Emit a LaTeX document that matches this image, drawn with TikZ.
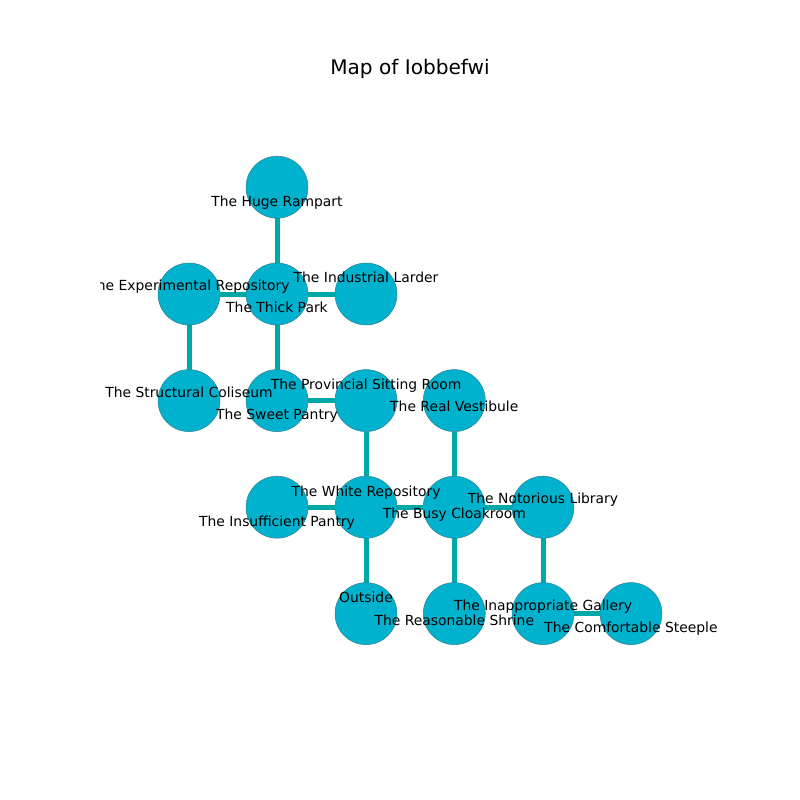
\documentclass[tikz,border=0pt]{standalone}
\usepackage{fontspec}
\setmainfont{DejaVu Sans}
\usetikzlibrary{backgrounds}
\definecolor{roomfill}{HTML}{00B2CE}
\definecolor{roomedge}{HTML}{00A8A8}
\definecolor{roomline}{HTML}{2F7F8F}
\tikzset{
  room/.style={circle,draw=roomline,line width=0.5pt,fill=roomfill,minimum size=62pt,inner sep=0pt,outer sep=0pt},
  link/.style={draw=roomedge,line width=5pt},
  lab/.style={anchor=base,inner sep=0pt,outer sep=0pt,text=black,font=\fontsize{13.89pt}{16pt}\selectfont},
  ttl/.style={anchor=base,inner sep=0pt,font=\fontsize{20.1pt}{23pt}\selectfont}
}
\begin{document}
\begin{tikzpicture}[x=1pt,y=-1pt]
\useasboundingbox (0,0) rectangle (800,800);
\node[ttl] (title) at (410,74.4) {Map of Iobbefwi};
\node[room] (huge) at (277,187.2) {};
\node[room] (exp) at (189,294) {};
\node[room] (thick) at (277,294) {};
\node[room] (ind) at (366,294) {};
\node[room] (struct) at (189,400.6) {};
\node[room] (sweet) at (277,400.6) {};
\node[room] (prov) at (366,400.6) {};
\node[room] (real) at (454.3,400.6) {};
\node[room] (insuf) at (277,507.2) {};
\node[room] (white) at (366,507.2) {};
\node[room] (busy) at (454.3,507.2) {};
\node[room] (notor) at (543,507.2) {};
\node[room] (out) at (366,613.6) {};
\node[room] (reas) at (454.3,613.6) {};
\node[room] (inap) at (543,613.6) {};
\node[room] (comf) at (631,613.6) {};
\begin{scope}[on background layer]
\draw[link] (huge) -- (thick);
\draw[link] (exp) -- (thick);
\draw[link] (thick) -- (ind);
\draw[link] (exp) -- (struct);
\draw[link] (thick) -- (sweet);
\draw[link] (sweet) -- (prov);
\draw[link] (prov) -- (white);
\draw[link] (real) -- (busy);
\draw[link] (insuf) -- (white);
\draw[link] (white) -- (busy);
\draw[link] (busy) -- (notor);
\draw[link] (white) -- (out);
\draw[link] (busy) -- (reas);
\draw[link] (notor) -- (inap);
\draw[link] (inap) -- (comf);
\end{scope}
\begin{scope}
\clip (100,96) rectangle (720,704);
\node[lab] (lexp) at (189,290) {The Experimental Repository};
\end{scope}
\node[lab] (lhuge) at (277,206) {The Huge Rampart};
\node[lab] (lind) at (366,282) {The Industrial Larder};
\node[lab] (lthick) at (277,312) {The Thick Park};
\node[lab] (lstruct) at (189,397) {The Structural Coliseum};
\node[lab] (lsweet) at (277,419) {The Sweet Pantry};
\node[lab] (lprov) at (366,389) {The Provincial Sitting Room};
\node[lab] (lreal) at (454.3,411) {The Real Vestibule};
\node[lab] (lwhite) at (366,496) {The White Repository};
\node[lab] (linsuf) at (277,526) {The Insufficient Pantry};
\node[lab] (lbusy) at (454.3,518) {The Busy Cloakroom};
\node[lab] (lnotor) at (543,503) {The Notorious Library};
\node[lab] (lout) at (366,602) {Outside};
\node[lab] (lreas) at (454.3,625) {The Reasonable Shrine};
\node[lab] (linap) at (543,610) {The Inappropriate Gallery};
\node[lab] (lcomf) at (631,632) {The Comfortable Steeple};
\end{tikzpicture}
\end{document}
